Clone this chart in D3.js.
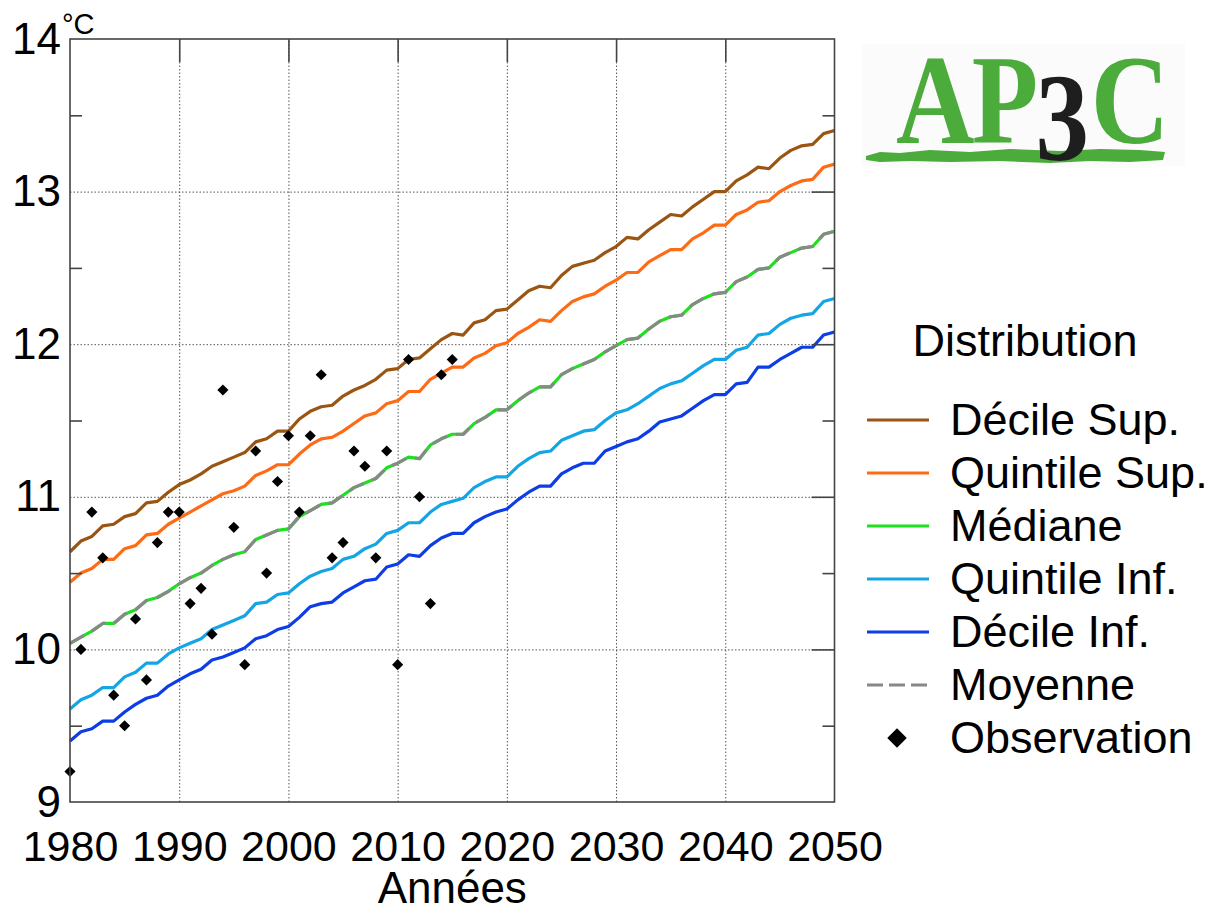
<!DOCTYPE html>
<html>
<head>
<meta charset="utf-8">
<script src="https://cdn.jsdelivr.net/npm/d3@7"></script>
<style>
  body { margin: 0; background: #fff; }
  svg text { font-family: "Liberation Sans", Arial, sans-serif; fill: #000; }
</style>
</head>
<body>
<svg class="chart"></svg>
<script>
const width = 1214, height = 914;

// Years and tick labels
const years = d3.range(1980, 2051);
const xTicks = [1980, 1990, 2000, 2010, 2020, 2030, 2040, 2050];
const yTicks = [9, 10, 11, 12, 13, 14];
const yMinor = [9.5, 10.5, 11.5, 12.5, 13.5];

// Series (°C), one value per year 1980-2050
const decileSup = [10.64,10.71,10.74,10.81,10.82,10.87,10.89,10.96,10.97,11.03,11.08,11.11,11.15,11.20,11.23,11.26,11.29,11.36,11.38,11.43,11.43,11.51,11.56,11.59,11.60,11.66,11.70,11.73,11.77,11.83,11.84,11.90,11.91,11.97,12.03,12.07,12.06,12.14,12.16,12.22,12.23,12.29,12.35,12.38,12.37,12.45,12.51,12.53,12.55,12.60,12.64,12.70,12.69,12.75,12.80,12.85,12.84,12.90,12.95,13.00,13.00,13.07,13.11,13.16,13.15,13.22,13.27,13.30,13.31,13.38,13.40];
const quintileSup = [10.44,10.50,10.53,10.59,10.59,10.66,10.68,10.75,10.76,10.82,10.86,10.90,10.94,10.98,11.02,11.04,11.07,11.14,11.17,11.21,11.21,11.28,11.34,11.38,11.39,11.43,11.48,11.53,11.55,11.61,11.63,11.69,11.69,11.77,11.81,11.85,11.85,11.91,11.94,11.99,12.01,12.07,12.11,12.16,12.15,12.22,12.28,12.31,12.33,12.38,12.42,12.47,12.47,12.54,12.58,12.62,12.62,12.69,12.73,12.78,12.78,12.85,12.88,12.93,12.94,13.00,13.04,13.07,13.08,13.16,13.18];
const mediane = [10.04,10.08,10.12,10.17,10.17,10.23,10.26,10.32,10.34,10.38,10.43,10.47,10.50,10.55,10.59,10.62,10.64,10.72,10.75,10.78,10.79,10.87,10.91,10.95,10.96,11.01,11.06,11.09,11.12,11.19,11.22,11.26,11.25,11.34,11.38,11.41,11.41,11.48,11.52,11.57,11.57,11.63,11.68,11.72,11.72,11.80,11.84,11.87,11.90,11.95,11.99,12.03,12.04,12.10,12.15,12.18,12.19,12.26,12.30,12.33,12.34,12.41,12.44,12.49,12.50,12.57,12.60,12.63,12.64,12.72,12.74];
const quintileInf = [9.61,9.67,9.70,9.75,9.75,9.82,9.85,9.91,9.91,9.97,10.01,10.04,10.07,10.13,10.16,10.19,10.22,10.30,10.31,10.36,10.37,10.43,10.48,10.51,10.53,10.59,10.61,10.66,10.69,10.76,10.78,10.83,10.83,10.90,10.95,10.97,10.99,11.06,11.10,11.13,11.13,11.20,11.25,11.29,11.30,11.37,11.40,11.43,11.44,11.50,11.55,11.57,11.61,11.66,11.71,11.74,11.76,11.81,11.86,11.90,11.90,11.96,11.98,12.06,12.07,12.13,12.17,12.19,12.20,12.28,12.30];
const decileInf = [9.40,9.46,9.48,9.53,9.53,9.59,9.64,9.68,9.70,9.76,9.80,9.84,9.87,9.93,9.95,9.98,10.01,10.07,10.09,10.13,10.15,10.21,10.28,10.30,10.31,10.37,10.41,10.45,10.46,10.54,10.56,10.62,10.61,10.68,10.73,10.76,10.76,10.83,10.87,10.90,10.92,10.98,11.03,11.07,11.07,11.15,11.19,11.22,11.22,11.30,11.33,11.36,11.38,11.43,11.49,11.51,11.53,11.58,11.63,11.67,11.67,11.74,11.75,11.85,11.85,11.90,11.94,11.98,11.98,12.06,12.08];
const moyenne = [10.04,10.08,10.12,10.17,10.17,10.23,10.26,10.32,10.34,10.38,10.43,10.47,10.50,10.55,10.59,10.62,10.64,10.72,10.75,10.78,10.79,10.87,10.91,10.95,10.96,11.01,11.06,11.09,11.12,11.19,11.22,11.26,11.25,11.34,11.38,11.41,11.41,11.48,11.52,11.57,11.57,11.63,11.68,11.72,11.72,11.80,11.84,11.87,11.90,11.95,11.99,12.03,12.04,12.10,12.15,12.18,12.19,12.26,12.30,12.33,12.34,12.41,12.44,12.49,12.50,12.57,12.60,12.63,12.64,12.72,12.74];

// Observations 1980-2015
const obsYears = d3.range(1980, 2016);
const observation = [9.2,10.0,10.9,10.6,9.7,9.5,10.2,9.8,10.7,10.9,10.9,10.3,10.4,10.1,11.7,10.8,9.9,11.3,10.5,11.1,11.4,10.9,11.4,11.8,10.6,10.7,11.3,11.2,10.6,11.3,9.9,11.9,11.0,10.3,11.8,11.9];

const seriesNames = ["Décile Sup.", "Quintile Sup.", "Médiane", "Quintile Inf.", "Décile Inf.", "Moyenne"];
const seriesData = [decileSup, quintileSup, mediane, quintileInf, decileInf, moyenne];
const seriesColors = ["#9a5512", "#ff6a14", "#1ee01e", "#14a5e6", "#0d3de6", "#888888"];

// Scales
const plotLeft = 70, plotRight = 834.5, plotTop = 39, plotBottom = 802;
const x = d3.scaleLinear().domain([1980, 2050]).range([plotLeft, plotRight]);
const y = d3.scaleLinear().domain([9, 14]).range([plotBottom, plotTop]);

const svg = d3.select(".chart").attr("width", width).attr("height", height);

// Grid
svg.append("g").attr("class", "grid")
  .attr("transform", `translate(0,${plotBottom})`)
  .call(d3.axisBottom(x).tickValues(xTicks.slice(1, -1)).tickSize(-(plotBottom - plotTop)).tickFormat(""))
  .call(g => g.select(".domain").remove());
svg.append("g").attr("class", "grid")
  .attr("transform", `translate(${plotLeft},0)`)
  .call(d3.axisLeft(y).tickValues(yTicks.slice(1, -1)).tickSize(-(plotRight - plotLeft)).tickFormat(""))
  .call(g => g.select(".domain").remove());
svg.selectAll(".grid line").attr("stroke", "#555").attr("stroke-width", 1).attr("stroke-dasharray", "1.5,2");

// Lines
const line = d3.line().x((d, i) => x(years[i])).y(d => y(d));
seriesData.forEach((s, i) => {
  svg.append("path").datum(s)
    .attr("fill", "none")
    .attr("stroke", seriesColors[i])
    .attr("stroke-width", 3.2)
    .attr("stroke-linejoin", "round")
    .attr("stroke-dasharray", i === 5 ? "16,9" : null)
    .attr("d", line);
});

// Observations
const diamond = d3.symbol(d3.symbolSquare, 62);
svg.append("g").selectAll("path").data(observation).join("path")
  .attr("d", diamond)
  .attr("fill", "#000")
  .attr("transform", (d, i) => `translate(${x(obsYears[i])},${y(d)}) rotate(45)`);

// Frame
svg.append("rect")
  .attr("x", plotLeft).attr("y", plotTop).attr("width", plotRight - plotLeft).attr("height", plotBottom - plotTop)
  .attr("fill", "none").attr("stroke", "#444").attr("stroke-width", 1.6);

// Inner ticks: top (major), right (major + minor), left (minor)
const tickColor = "#444";
const innerTicks = svg.append("g").attr("class", "inner-ticks");
innerTicks.append("g").attr("transform", `translate(0,${plotTop})`)
  .call(d3.axisTop(x).tickValues(xTicks.slice(1, -1)).tickSize(-23).tickFormat(""))
  .call(g => g.select(".domain").remove());
innerTicks.append("g").attr("transform", `translate(${plotRight},0)`)
  .call(d3.axisRight(y).tickValues(yTicks.slice(1, -1)).tickSize(-23).tickFormat(""))
  .call(g => g.select(".domain").remove());
innerTicks.append("g").attr("transform", `translate(${plotRight},0)`)
  .call(d3.axisRight(y).tickValues(yMinor).tickSize(-12).tickFormat(""))
  .call(g => g.select(".domain").remove());
innerTicks.append("g").attr("transform", `translate(${plotLeft},0)`)
  .call(d3.axisLeft(y).tickValues(yMinor).tickSize(-12).tickFormat(""))
  .call(g => g.select(".domain").remove());
innerTicks.selectAll("line").attr("stroke", tickColor).attr("stroke-width", 1.6);

// Tick labels
const xAxis = svg.append("g").attr("transform", `translate(0,${plotBottom})`)
  .call(d3.axisBottom(x).tickValues(xTicks).tickSize(0).tickPadding(28).tickFormat(d3.format("d")));
xAxis.select(".domain").remove();
xAxis.selectAll("text").attr("font-size", 43).attr("dy", "0.71em");

const yAxis = svg.append("g").attr("transform", `translate(${plotLeft},0)`)
  .call(d3.axisLeft(y).tickValues(yTicks).tickSize(0).tickPadding(9).tickFormat(d3.format("d")));
yAxis.select(".domain").remove();
yAxis.selectAll("text").attr("font-size", 44);

svg.selectAll(".tick text").attr("fill", "#000");

// Unit and axis title
svg.append("text").attr("x", 62).attr("y", 34).attr("font-size", 29).text("°C");
svg.append("text").attr("x", (plotLeft + plotRight) / 2).attr("y", 903)
  .attr("text-anchor", "middle").attr("font-size", 44).text("Années");

// Legend
const legend = svg.append("g");
legend.append("text").attr("x", 1025).attr("y", 356).attr("text-anchor", "middle")
  .attr("font-size", 45).text("Distribution");
const rowY = d3.scaleLinear().domain([0, 6]).range([420, 738]);
seriesNames.forEach((name, i) => {
  legend.append("line")
    .attr("x1", 867).attr("x2", 929).attr("y1", rowY(i)).attr("y2", rowY(i))
    .attr("stroke", seriesColors[i]).attr("stroke-width", 3.2)
    .attr("stroke-dasharray", i === 5 ? "16,6" : null);
  legend.append("text").attr("x", 950).attr("y", rowY(i) + 15)
    .attr("font-size", 45).text(name);
});
legend.append("path")
  .attr("d", d3.symbol(d3.symbolSquare, 190))
  .attr("transform", `translate(897,${rowY(6)}) rotate(45)`)
  .attr("fill", "#000");
legend.append("text").attr("x", 950).attr("y", rowY(6) + 15)
  .attr("font-size", 45).text("Observation");

// Logo
const logo = svg.append("g");
logo.append("rect").attr("x", 862).attr("y", 44).attr("width", 323).attr("height", 122).attr("fill", "#fbfbfb");
logo.append("path")
  .attr("d", "M866,156 L880,152 L900,153 L930,150 L970,152 L1010,149 L1060,151 L1100,149 L1140,150 L1165,152 L1163,160 L1130,162 L1090,161 L1050,163 L1000,161 L950,162 L910,161 L880,162 L866,160 Z")
  .attr("fill", "#4bab3b");
const logoGreen = "#4bab3b";
const logoText = logo.append("text")
  .attr("transform", "translate(896,143) scale(0.85,1)")
  .style("font-family", "'Liberation Serif', 'DejaVu Serif', serif")
  .style("font-weight", "bold")
  .style("font-size", "128px");
[{ t: "A", x: 0, dy: 0, c: logoGreen },
 { t: "P", x: 89, dy: 0, c: logoGreen },
 { t: "3", x: 164, dy: 17, c: "#1e1e1e", size: "126px" },
 { t: "C", x: 229, dy: -17, c: logoGreen }]
  .forEach(l => {
    logoText.append("tspan").attr("x", l.x).attr("dy", l.dy)
      .style("fill", l.c).style("font-size", l.size || null)
      .text(l.t);
  });
</script>
</body>
</html>
